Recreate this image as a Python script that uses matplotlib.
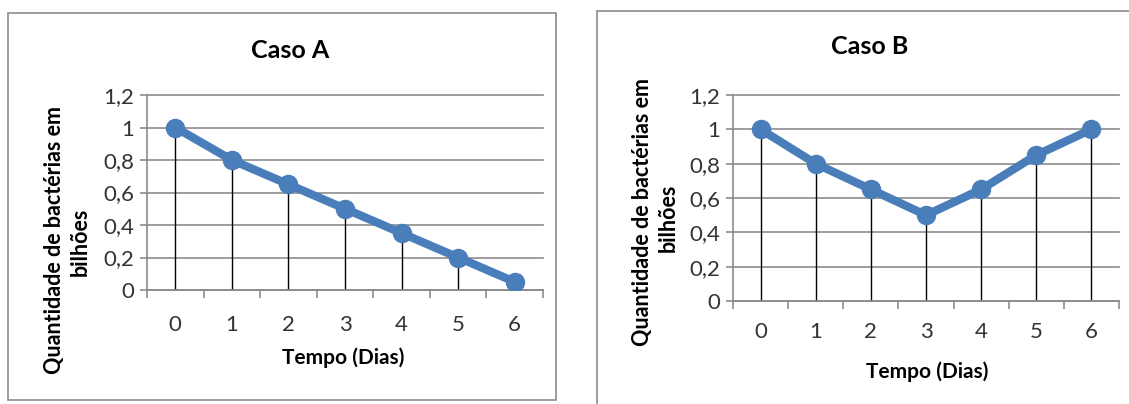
import matplotlib.pyplot as plt
from matplotlib.patches import Rectangle

plt.rcParams['font.family'] = ['Lato', 'DejaVu Sans']

dias = [0, 1, 2, 3, 4, 5, 6]
casoA = [1, 0.8, 0.65, 0.5, 0.35, 0.2, 0.05]
casoB = [1, 0.8, 0.65, 0.5, 0.65, 0.85, 1]
yTicks = [0, 0.2, 0.4, 0.6, 0.8, 1, 1.2]
yLabels = ["0", "0,2", "0,4", "0,6", "0,8", "1", "1,2"]

W, H = 1129, 404
fig = plt.figure(figsize=(W / 100, H / 100), dpi=100)

def px(x, y):
    # pixel coords (top-left origin) -> figure fraction
    return x / W, 1 - y / H

# panel borders
for (x0, y0, x1, y1) in [(8, 13, 556, 400), (597, 11, 1140, 410)]:
    fig.patches.append(Rectangle(px(x0, y1), (x1 - x0) / W, (y1 - y0) / H,
                                 transform=fig.transFigure, fill=False,
                                 edgecolor="#8c8c8c", lw=1.2))

blue = "#4a7ebb"
grid = "#8c8c8c"

def painel(rect, valores, titulo, tpos, xlpos, yl1, yl2, xpad):
    ax = fig.add_axes(rect)
    ax.set_xlim(-0.5, 6.5)
    ax.set_ylim(0, 1.2)
    for y in yTicks:
        ax.axhline(y, color=grid, lw=1.2, zorder=0, clip_on=False)
    ax.vlines(dias, 0, valores, color="black", lw=1, zorder=1)
    ax.plot(dias, valores, "-o", color=blue, lw=6, ms=13, zorder=3,
            solid_capstyle="round")
    for s in ["top", "right"]:
        ax.spines[s].set_visible(False)
    ax.spines["left"].set_color(grid)
    ax.spines["bottom"].set_color(grid)
    ax.spines["left"].set_linewidth(1.2)
    ax.spines["bottom"].set_linewidth(1.2)
    ax.set_yticks(yTicks)
    ax.set_yticklabels(yLabels)
    ax.set_xticks(dias)
    ax.set_xticks([d - 0.5 for d in dias] + [6.5], minor=True)
    ax.tick_params(axis="x", which="major", length=0, pad=xpad,
                   labelsize=16, labelcolor="#333333")
    ax.tick_params(axis="x", which="minor", length=6, color=grid, width=1.2)
    ax.tick_params(axis="y", length=5, color=grid, width=1.2, pad=4,
                   labelsize=16, labelcolor="#333333")
    fig.text(*px(*tpos), titulo, fontsize=18, fontweight="bold",
             ha="center", va="center")
    fig.text(*px(*xlpos), "Tempo (Dias)", fontsize=15, fontweight="bold",
             ha="center", va="center")
    fig.text(*px(*yl1), "Quantidade de bactérias em", fontsize=15.5,
             fontweight="bold", rotation=90, ha="center", va="center")
    fig.text(*px(*yl2), "bilhões", fontsize=15.5, fontweight="bold",
             rotation=90, ha="center", va="center")
    return ax

painel([147 / W, 1 - 290 / H, 396 / W, 195 / H], casoA, "Caso A",
       (290, 50), (343, 358), (55, 240), (80, 242), 18)
painel([733 / W, 1 - 301 / H, 386 / W, 206 / H], casoB, "Caso B",
       (870, 47), (927, 372), (643, 212), (668, 218), 15)

fig.savefig("out.png", dpi=100)
